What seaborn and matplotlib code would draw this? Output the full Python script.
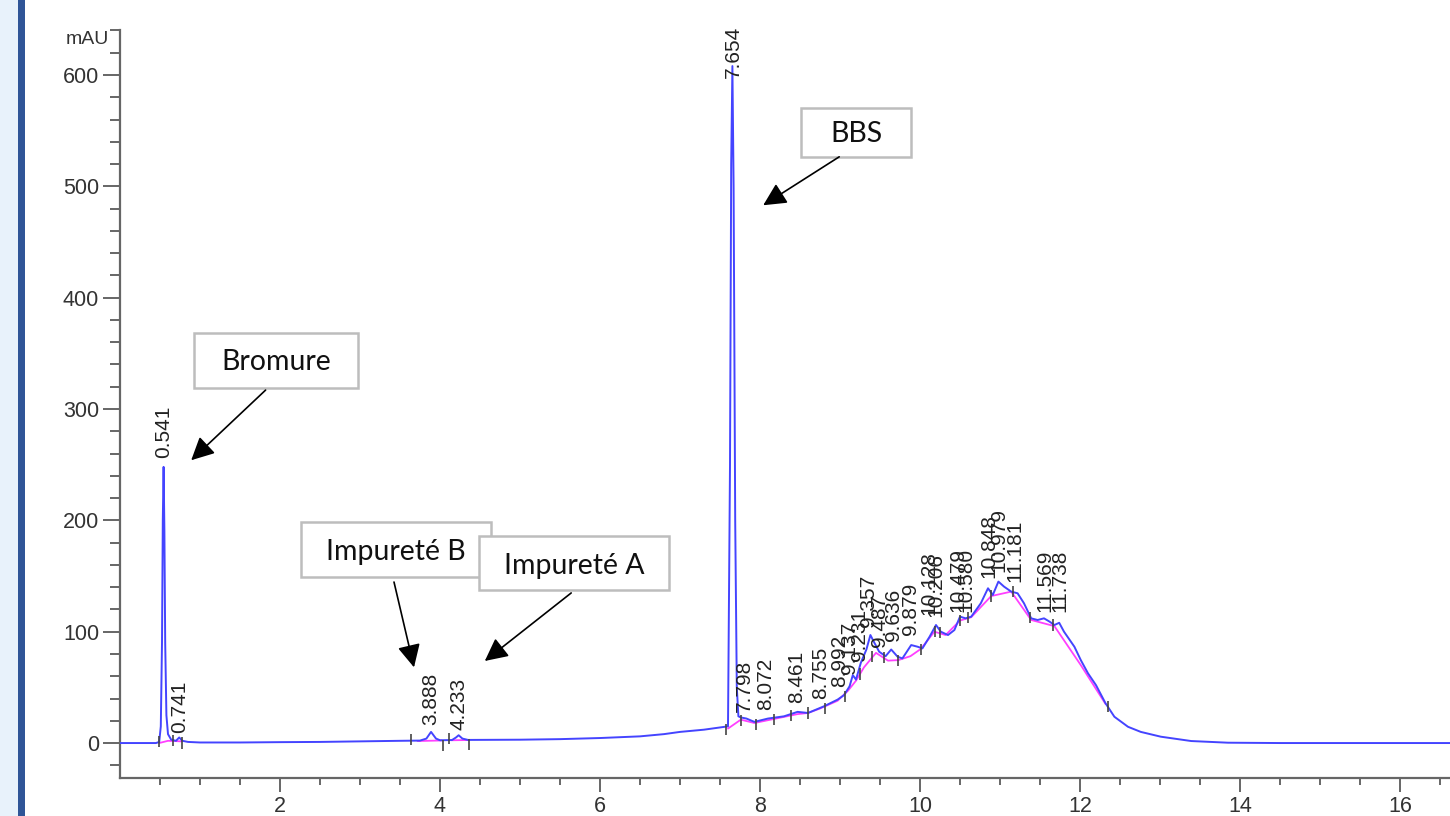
import numpy as np
import pandas as pd
import matplotlib
matplotlib.use("Agg")
import matplotlib.pyplot as plt
from matplotlib.patches import Rectangle
import seaborn as sns

# ---------------- data ----------------
time_min = [0.00, 0.45, 0.49, 0.51, 0.525, 0.535, 0.545, 0.555, 0.565, 0.58,
            0.60, 0.64, 0.70, 0.74, 0.78, 0.85, 1.0, 1.5, 2.0, 2.5,
            3.0, 3.5, 3.75, 3.83, 3.888, 3.95, 4.0, 4.15, 4.20, 4.233,
            4.28, 4.35, 5.0, 5.5, 6.0, 6.5, 6.8, 7.0, 7.3, 7.5,
            7.60, 7.625, 7.64, 7.655, 7.67, 7.69, 7.71, 7.73, 7.76, 7.83,
            7.93, 8.10, 8.30, 8.47, 8.60, 8.80, 8.97, 9.05, 9.12, 9.16,
            9.20, 9.26, 9.33, 9.38, 9.43, 9.49, 9.57, 9.64, 9.72, 9.78,
            9.89, 9.97, 10.03, 10.12, 10.20, 10.26, 10.35, 10.43, 10.50, 10.57,
            10.64, 10.76, 10.85, 10.91, 10.98, 11.05, 11.14, 11.22, 11.30, 11.39,
            11.47, 11.55, 11.62, 11.68, 11.74, 11.80, 11.93, 12.01, 12.10, 12.20,
            12.32, 12.43, 12.60, 12.76, 13.01, 13.39, 13.85, 14.5, 16.64]
signal_mau = [0, 0, 1, 15, 90, 200, 248, 190, 90, 25,
              8, 3, 2, 5, 2, 1, 0.5, 0.5, 0.8, 1.0,
              1.5, 2, 2.2, 4, 10, 4, 2.5, 2.7, 5, 7,
              4, 2.8, 3, 3.5, 4.5, 6, 8, 10, 12, 14,
              15, 250, 520, 608, 500, 200, 50, 24, 23, 22,
              19, 22, 24, 28, 27, 33, 39, 43, 51, 61,
              57, 72, 84, 97, 90, 82, 78, 84, 77.5, 76,
              88, 86.5, 85, 95.5, 106, 100, 97, 101.5, 113.5, 112,
              113.5, 125.5, 139, 133, 145, 140.5, 136, 134.5, 125.5, 112,
              110.5, 112, 109, 106, 108, 100, 86.5, 74.5, 62.6, 52,
              35.6, 23.6, 14.6, 10, 5.7, 1.8, 0.3, 0, 0]

# integration baseline (magenta), split into segments
base_seg = [1, 1, 1, 2, 2, 3, 3] + [4] * 26
base_time = [0.49, 0.60, 0.77, 3.72, 4.02, 4.14, 4.36,
             7.60, 7.76, 7.93, 8.20, 8.47, 8.60, 8.75, 8.97, 9.10, 9.20,
             9.30, 9.45, 9.60, 9.73, 9.88, 10.01, 10.18, 10.32, 10.50, 10.64,
             10.89, 11.14, 11.39, 11.68, 12.01, 12.32]
base_mau = [0, 2, 1.5, 1.8, 2.3, 2.5, 2.7,
            13, 21, 18, 22, 26, 27, 31, 38, 47, 56,
            68, 81, 74, 74.5, 78, 84.5, 100, 97, 110, 113,
            132, 136, 110.5, 105, 70, 35]

# peak start/stop markers
bound_t = [0.49, 0.66, 0.77, 3.64, 4.04, 4.11, 4.36, 7.58, 7.76, 7.95, 8.17, 8.39, 8.60, 8.81,
           9.06, 9.25, 9.40, 9.55, 9.72, 10.01, 10.19, 10.25, 10.50, 10.60, 10.89,
           11.16, 11.37, 11.66, 12.35]
bound_y = [1, 2, 0, 3, -2, 4, -1, 12, 20, 17, 21, 25, 27, 31,
           42, 62, 78, 77, 74, 84, 100, 99, 110, 113, 132,
           136, 113, 106, 33]

# retention-time labels
peak_labels = ["0.541", "0.741", "3.888", "4.233", "7.654", "7.798", "8.072", "8.461",
               "8.755", "8.992", "9.137", "9.231", "9.357", "9.487", "9.636", "9.879",
               "10.128", "10.206", "10.479", "10.580", "10.848", "10.979", "11.181",
               "11.569", "11.738"]
label_x = [0.545, 0.75, 3.89, 4.24, 7.665, 7.80, 8.07, 8.46,
           8.755, 8.99, 9.12, 9.24, 9.36, 9.50, 9.67, 9.88,
           10.11, 10.20, 10.47, 10.57, 10.86, 10.99, 11.18,
           11.56, 11.75]
label_y = [256, 9, 16, 12, 597, 28, 30, 36,
           40, 50, 62, 74, 104, 86, 92, 97,
           115, 113, 118, 118, 148, 154, 145,
           118, 118]

# annotation callouts
callout_text = ["Bromure", "BBS", "Impureté B", "Impureté A"]
callout_box = [(0.925, 319.0, 2.975, 368.4),
               (8.51, 526.5, 9.89, 570.5),
               (2.26, 149.0, 4.64, 198.6),
               (4.49, 137.5, 6.86, 186.0)]
callout_txt_pos = [(1.95, 342), (9.2, 547), (3.45, 172), (5.675, 159)]
arrow_tail = [(1.82, 317), (8.99, 526.5), (3.425, 144.6), (5.64, 134.8)]
arrow_tip = [(0.89, 254), (8.04, 483), (3.675, 68), (4.56, 73.7)]

# ---------------- figure ----------------
sns.set_style("ticks")
plt.rcParams["font.family"] = ["Liberation Sans", "DejaVu Sans"]

fig = plt.figure(figsize=(14.5, 8.16), dpi=100)
fig.patch.set_facecolor("white")
fig.patches.append(Rectangle((0, 0), 18 / 1450, 1, transform=fig.transFigure,
                             facecolor="#e8f2fb", edgecolor="none", zorder=0))
fig.patches.append(Rectangle((18 / 1450, 0), 7 / 1450, 1, transform=fig.transFigure,
                             facecolor="#2f5597", edgecolor="none", zorder=0))

ax = fig.add_axes([120 / 1450, 38 / 816, 1330 / 1450, 748 / 816])
ax.set_facecolor("white")

trace = pd.DataFrame({"t": time_min, "s": signal_mau})
base = pd.DataFrame({"t": base_time, "s": base_mau, "seg": base_seg})

sns.lineplot(data=base, x="t", y="s", units="seg", estimator=None, sort=False,
             color="#ff40ff", linewidth=1.3, ax=ax, zorder=2)
sns.lineplot(data=trace, x="t", y="s", estimator=None, sort=False,
             color="#4444ff", linewidth=1.4, ax=ax, zorder=3)

ax.vlines(bound_t, np.array(bound_y) - 5, np.array(bound_y) + 5,
          color="#444444", linewidth=1.2, zorder=4)

for lab, lx, ly in zip(peak_labels, label_x, label_y):
    ax.text(lx, ly, lab, rotation=90, ha="center", va="bottom",
            fontsize=15, color="#222222", zorder=6, clip_on=False)

for txt, (x0, y0, x1, y1), (tx, ty), tail, tip in zip(callout_text, callout_box,
                                                      callout_txt_pos, arrow_tail, arrow_tip):
    ax.add_patch(Rectangle((x0, y0), x1 - x0, y1 - y0, facecolor="white",
                           edgecolor="#bdbdbd", linewidth=1.8, clip_on=False, zorder=7))
    ax.text(tx, ty, txt, ha="center", va="center", fontsize=20.5,
            family=["Lato", "DejaVu Sans"], color="#111111", zorder=8)
    ax.annotate("", xy=tip, xytext=tail,
                arrowprops=dict(arrowstyle="-|>,head_length=0.7,head_width=0.35",
                                color="black", lw=1.2, shrinkA=0, shrinkB=0,
                                mutation_scale=20),
                annotation_clip=False, zorder=8)

ax.set_xlim(0, 16.625)
ax.set_ylim(-31.4, 640.4)
ax.set_xlabel("")
ax.set_ylabel("")

ax.set_xticks(np.arange(2, 17, 2))
ax.set_xticks(np.arange(0.5, 16.6, 0.5), minor=True)
ax.set_yticks(np.arange(0, 601, 100))
ax.set_yticks(np.arange(-20, 641, 20), minor=True)
ax.tick_params(axis="x", which="major", length=10, width=1.4, color="#666666",
               labelsize=15.5, labelcolor="#333333", pad=3)
ax.tick_params(axis="x", which="minor", length=5, width=1.4, color="#666666")
ax.tick_params(axis="y", which="major", length=12, width=1.4, color="#666666",
               labelsize=15.5, labelcolor="#333333", pad=3)
ax.tick_params(axis="y", which="minor", length=7, width=1.4, color="#666666")

for side in ["top", "right"]:
    ax.spines[side].set_visible(False)
for side in ["left", "bottom"]:
    ax.spines[side].set_color("#666666")
    ax.spines[side].set_linewidth(1.6)

ax.text(-0.14, 632, "mAU", ha="right", va="center", fontsize=14,
        color="#333333", clip_on=False)

fig.savefig("out.png", dpi=100)
